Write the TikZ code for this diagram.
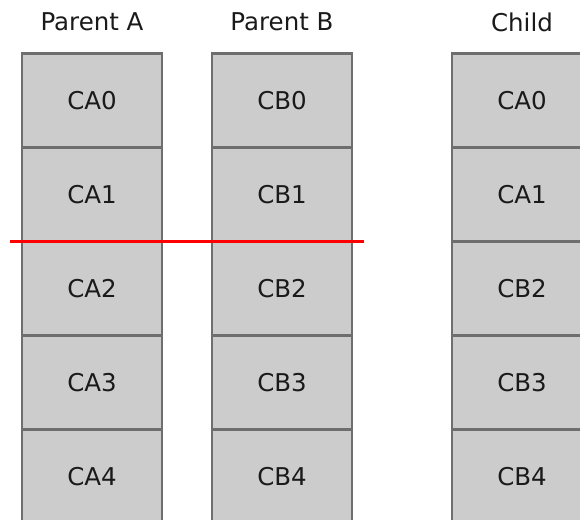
\documentclass[tikz,border=0pt]{standalone}
\usepackage{fontspec}
\setmainfont{DejaVu Sans}
\definecolor{cellfill}{HTML}{CCCCCC}
\definecolor{cellline}{HTML}{6E6E6E}
\definecolor{txt}{HTML}{1A1A1A}
\begin{document}
\begin{tikzpicture}[x=1pt,y=-1pt,
  cell/.style={draw=cellline,fill=cellfill,line width=2.4pt,minimum width=140pt,minimum height=94pt,inner sep=0pt,outer sep=0pt,font=\fontsize{24.5}{28}\selectfont,text=txt},
  title/.style={font=\fontsize{24.5}{28}\selectfont,text=txt,inner sep=0pt},
  cut/.style={draw=red,line width=2.6pt}]
\useasboundingbox (0,0) rectangle (580,519);
\clip (0,0) rectangle (580,519);
\node[title] (tA) at (92,22) {Parent A};
\node[title] (tB) at (282,22) {Parent B};
\node[title] (tC) at (522,22) {Child};
\foreach \i/\y in {0/100.5,1/194.5,2/288.5,3/382.5,4/476.5}{
  \node[cell] (A\i) at (92,\y) {CA\i};
  \node[cell] (B\i) at (282,\y) {CB\i};
}
\node[cell] (C0) at (522,100.5) {CA0};
\node[cell] (C1) at (522,194.5) {CA1};
\node[cell] (C2) at (522,288.5) {CB2};
\node[cell] (C3) at (522,382.5) {CB3};
\node[cell] (C4) at (522,476.5) {CB4};
\coordinate (r1) at (10,241.5);
\coordinate (r2) at (364,241.5);
\draw[cut] (r1) -- (r2);
\end{tikzpicture}
\end{document}
